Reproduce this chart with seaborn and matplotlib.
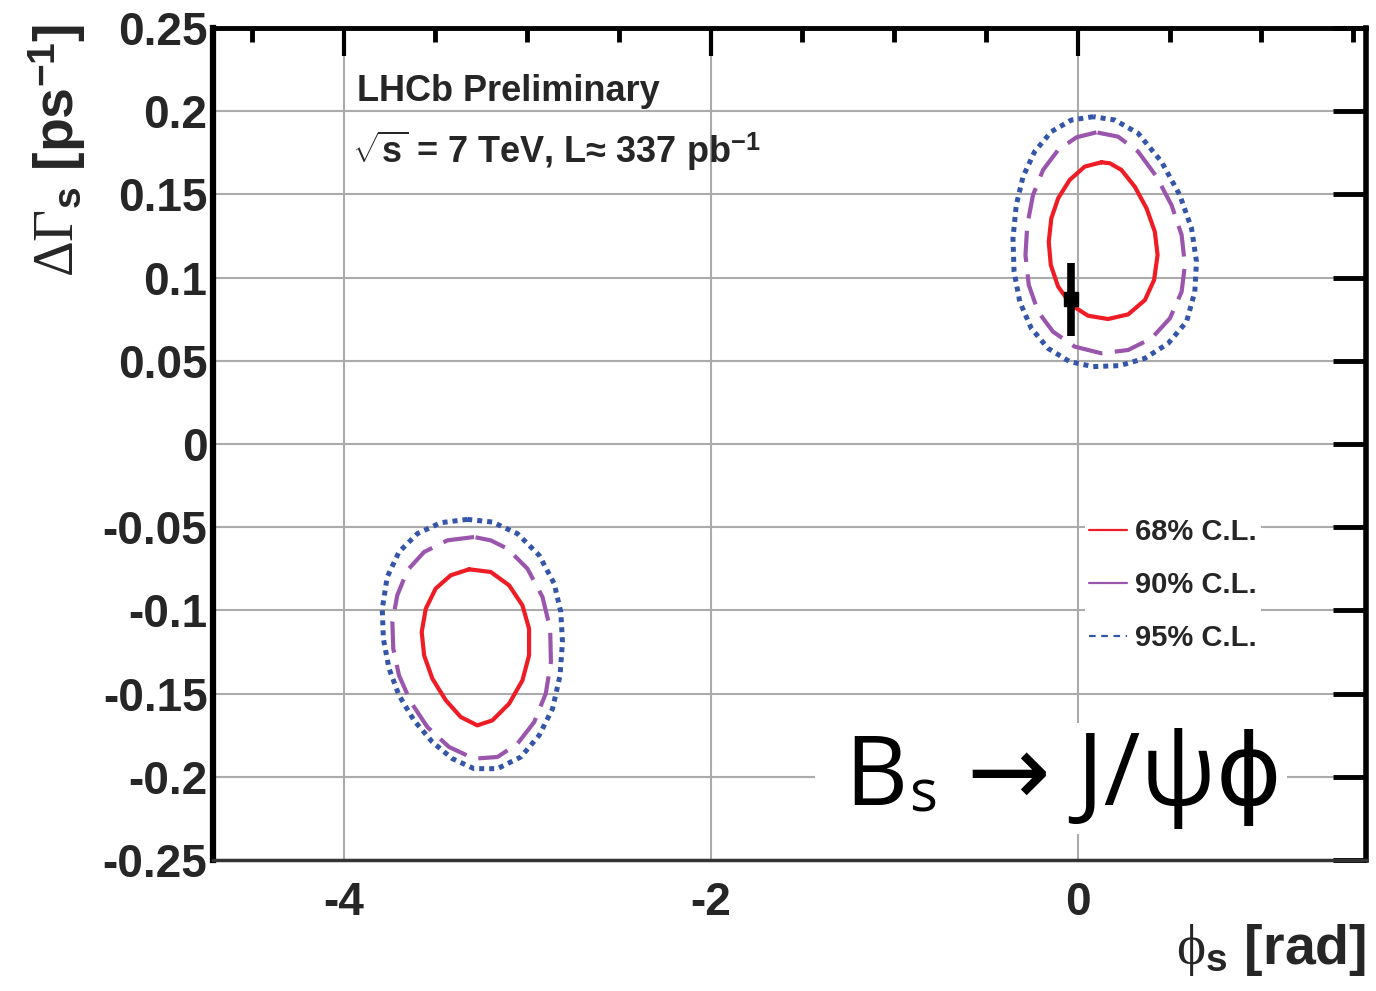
import numpy as np
import matplotlib
matplotlib.use("Agg")
import matplotlib.pyplot as plt
import seaborn as sns
from matplotlib.lines import Line2D
from matplotlib.transforms import IdentityTransform
from matplotlib.ticker import MultipleLocator, FixedLocator, NullLocator

# --- confidence-level contours in the (phi_s, DeltaGamma_s) plane -------------
# solution near phi_s ~ 0
phi_68_a = [0.129, 0.038, -0.044, -0.107, -0.144, -0.158, -0.147, -0.107, -0.035, 0.056,
            0.165, 0.275, 0.366, 0.416, 0.435, 0.420, 0.375, 0.311, 0.238, 0.175]
dg_68_a = [0.1693, 0.1667, 0.1587, 0.1476, 0.1356, 0.1216, 0.1076, 0.0946, 0.0835, 0.0771,
           0.0751, 0.0779, 0.0865, 0.0986, 0.1136, 0.1276, 0.1416, 0.1546, 0.1647, 0.1687]
phi_90_a = [0.102, -0.007, -0.107, -0.189, -0.244, -0.275, -0.285, -0.267, -0.216, -0.135, -0.016,
            0.129, 0.275, 0.402, 0.502, 0.566, 0.584, 0.566, 0.511, 0.429, 0.329, 0.220]
dg_90_a = [0.1873, 0.1843, 0.1767, 0.1647, 0.1496, 0.1316, 0.1136, 0.0956, 0.0795, 0.0675, 0.0585,
           0.0545, 0.0565, 0.0635, 0.0755, 0.0915, 0.1076, 0.1256, 0.1436, 0.1607, 0.1757, 0.1847]
phi_95_a = [0.084, -0.035, -0.144, -0.235, -0.298, -0.335, -0.353, -0.347, -0.316, -0.253, -0.162, -0.044,
            0.084, 0.229, 0.366, 0.493, 0.593, 0.638, 0.647, 0.620, 0.556, 0.456, 0.329, 0.202]
dg_95_a = [0.1967, 0.1947, 0.1877, 0.1757, 0.1607, 0.1436, 0.1236, 0.1036, 0.0855, 0.0695, 0.0575, 0.0495,
           0.0465, 0.0471, 0.0515, 0.0605, 0.0735, 0.0915, 0.1096, 0.1296, 0.1496, 0.1697, 0.1867, 0.1947]

# mirror solution near phi_s ~ -pi
phi_68_b = [-3.317, -3.417, -3.499, -3.553, -3.575, -3.562, -3.517, -3.444, -3.362,
            -3.272, -3.190, -3.099, -3.026, -2.990, -2.990, -3.026, -3.099, -3.199]
dg_68_b = [-0.0753, -0.0789, -0.0869, -0.0990, -0.1130, -0.1270, -0.1410, -0.1540, -0.1641,
           -0.1691, -0.1661, -0.1561, -0.1420, -0.1270, -0.1110, -0.0970, -0.0849, -0.0769]
phi_90_b = [-3.290, -3.435, -3.562, -3.653, -3.708, -3.735, -3.730, -3.699, -3.635, -3.544, -3.426,
            -3.290, -3.162, -3.053, -2.962, -2.899, -2.871, -2.875, -2.917, -2.999, -3.108, -3.199]
dg_90_b = [-0.0559, -0.0579, -0.0649, -0.0759, -0.0909, -0.1070, -0.1230, -0.1390, -0.1550, -0.1701, -0.1821,
           -0.1891, -0.1881, -0.1801, -0.1671, -0.1500, -0.1310, -0.1110, -0.0919, -0.0749, -0.0629, -0.0579]
phi_95_b = [-3.326, -3.472, -3.599, -3.699, -3.763, -3.790, -3.784, -3.753, -3.699, -3.617, -3.517, -3.408,
            -3.290, -3.162, -3.035, -2.935, -2.862, -2.821, -2.808, -2.817, -2.853, -2.935, -3.053, -3.190]
dg_95_b = [-0.0453, -0.0473, -0.0539, -0.0649, -0.0799, -0.0990, -0.1170, -0.1350, -0.1510, -0.1661, -0.1791, -0.1891,
           -0.1951, -0.1951, -0.1881, -0.1751, -0.1591, -0.1390, -0.1190, -0.1010, -0.0839, -0.0669, -0.0539, -0.0469]

cl_labels = ["68% C.L.", "90% C.L.", "95% C.L."]

# Standard Model expectation
sm_phi = -0.036
sm_dg = 0.087
sm_err = 0.022

x_major = [-4, -2, 0]
y_major = [-0.25, -0.2, -0.15, -0.1, -0.05, 0, 0.05, 0.1, 0.15, 0.2, 0.25]
y_ticklabels = ["-0.25", "-0.2", "-0.15", "-0.1", "-0.05", "0", "0.05", "0.1", "0.15", "0.2", "0.25"]

# --- styling ------------------------------------------------------------------
sns.set_style("white")
plt.rcParams["font.family"] = ["Liberation Sans", "DejaVu Sans"]
plt.rcParams["font.weight"] = "bold"
plt.rcParams["mathtext.fontset"] = "custom"
plt.rcParams["mathtext.rm"] = "Liberation Serif:weight=normal"
plt.rcParams["mathtext.it"] = "Liberation Serif:italic:weight=normal"
plt.rcParams["mathtext.bf"] = "Liberation Sans:bold"
plt.rcParams["mathtext.sf"] = "Open Sans"

RED = "#ee1c25"
PURPLE = "#9a55ac"
BLUE = "#3555a8"
GRID = "#ababab"

W, H = 1376, 991
fig = plt.figure(figsize=(W / 100, H / 100), dpi=100)
ax = fig.add_axes([213 / W, 1 - 860 / H, (1366 - 213) / W, (860 - 28) / H])


def closed(a):
    return list(a) + [a[0]]


styles = [
    (RED, "-", 3.0),
    (PURPLE, (0, (7.5, 3.0)), 3.0),
    (BLUE, (0, (1.0, 1.0)), 3.6),
]
contours = [
    ((phi_68_a, dg_68_a), (phi_68_b, dg_68_b)),
    ((phi_90_a, dg_90_a), (phi_90_b, dg_90_b)),
    ((phi_95_a, dg_95_a), (phi_95_b, dg_95_b)),
]
for (color, ls, lw), pair in zip(styles, contours):
    for px, py in pair:
        sns.lineplot(x=closed(px), y=closed(py), sort=False, estimator=None,
                     color=color, linewidth=lw, linestyle=ls, ax=ax, zorder=4,
                     solid_joinstyle="round")

# SM point
ax.errorbar([sm_phi], [sm_dg], yerr=[sm_err], fmt="s", color="black",
            markersize=10, elinewidth=5.5, capsize=0, zorder=5)

ax.set_xlim(-1.5 * np.pi, 0.5 * np.pi)
ax.set_ylim(-0.25, 0.25)

# grid drawn as plain lines so text backgrounds can sit between grid and ticks
for xv in x_major:
    ax.axvline(xv, color=GRID, linewidth=1.5, zorder=0.5)
for yv in y_major:
    ax.axhline(yv, color=GRID, linewidth=1.5, zorder=0.5)

ax.xaxis.set_major_locator(FixedLocator(x_major))
ax.xaxis.set_minor_locator(MultipleLocator(0.5))
ax.set_xticklabels([str(v) for v in x_major])
ax.yaxis.set_major_locator(FixedLocator(y_major))
ax.yaxis.set_minor_locator(NullLocator())
ax.set_yticklabels(y_ticklabels)

ax.tick_params(axis="both", which="both", direction="in", top=True, right=True,
               color="black", labelsize=33)
ax.tick_params(axis="x", which="major", length=20, width=3, pad=15)
ax.tick_params(axis="x", which="minor", length=10, width=3.5)
ax.tick_params(axis="y", which="major", length=24, width=3.5, pad=4)
for lab in ax.get_xticklabels() + ax.get_yticklabels():
    lab.set_fontweight("bold")

for side, lw, col in [("left", 4.5, "black"), ("right", 4.0, "black"),
                      ("top", 3.5, "black"), ("bottom", 2.5, "#333333")]:
    ax.spines[side].set_linewidth(lw)
    ax.spines[side].set_color(col)
    ax.spines[side].set_visible(True)

# axis titles
ax.set_ylabel(r"$\Delta\Gamma_{\mathbf{s}}$ [ps$^{\mathbf{-1}}$]", fontsize=40,
              fontweight="bold")
ax.yaxis.set_label_coords(-0.108, 0.853)
ax.set_xlabel(r"$\mathrm{\phi}_{\mathbf{s}}$ [rad]", fontsize=40, fontweight="bold",
              loc="right")
ax.xaxis.set_label_coords(1.0, -0.074)

# annotations
ax.text(0.1249, 0.9123, "LHCb Preliminary", transform=ax.transAxes, fontsize=26,
        fontweight="bold", ha="left", va="baseline", zorder=6)
ax.text(0.1206, 0.8377, r"$\sqrt{\mathbf{s}}$ = 7 TeV, L≈ 337 pb$^{\mathbf{-1}}$",
        transform=ax.transAxes, fontsize=26, fontweight="bold", ha="left",
        va="baseline", zorder=6)

# decay label, built from pieces so the subscript sits below the baseline;
# each piece gets a white backing copy drawn underneath all the glyphs
renderer = fig.canvas.get_renderer()
decay_font = ["Open Sans", "DejaVu Sans"]
base_y = H - 805


def decay_piece(x, y, s, size, pad):
    kw = dict(transform=IdentityTransform(), fontsize=size, fontweight="normal",
              family=decay_font, ha="left", va="baseline")
    ax.text(x, y, s, color="white", zorder=2,
            bbox=dict(facecolor="white", edgecolor="none",
                      boxstyle=f"square,pad={pad}"), **kw)
    t = ax.text(x, y, s, color="black", zorder=2.1, **kw)
    return t.get_window_extent(renderer)


bB = decay_piece(820, base_y, " B", 70, 0.05)
bs = decay_piece(bB.x1 + 1, base_y - 7, "s", 42, 0.35)
decay_piece(bs.x1 + 4, base_y, " → J/ψϕ", 72, 0.05)

handles = [
    Line2D([], [], color=RED, linewidth=1.6, linestyle="-"),
    Line2D([], [], color=PURPLE, linewidth=1.6, linestyle="-"),
    Line2D([], [], color=BLUE, linewidth=1.6, linestyle=(0, (3, 2.5))),
]
leg = ax.legend(handles, cl_labels, loc="upper left",
                bbox_to_anchor=(1085 / W, 1 - 514 / H),
                bbox_transform=fig.transFigure, borderaxespad=0,
                prop={"size": 21, "weight": "bold"}, frameon=True,
                facecolor="white", edgecolor="none", framealpha=1, fancybox=False,
                handlelength=1.3, handletextpad=0.25, labelspacing=0.85,
                borderpad=0.15)
leg.set_zorder(3)

fig.savefig("out.png", dpi=100)
